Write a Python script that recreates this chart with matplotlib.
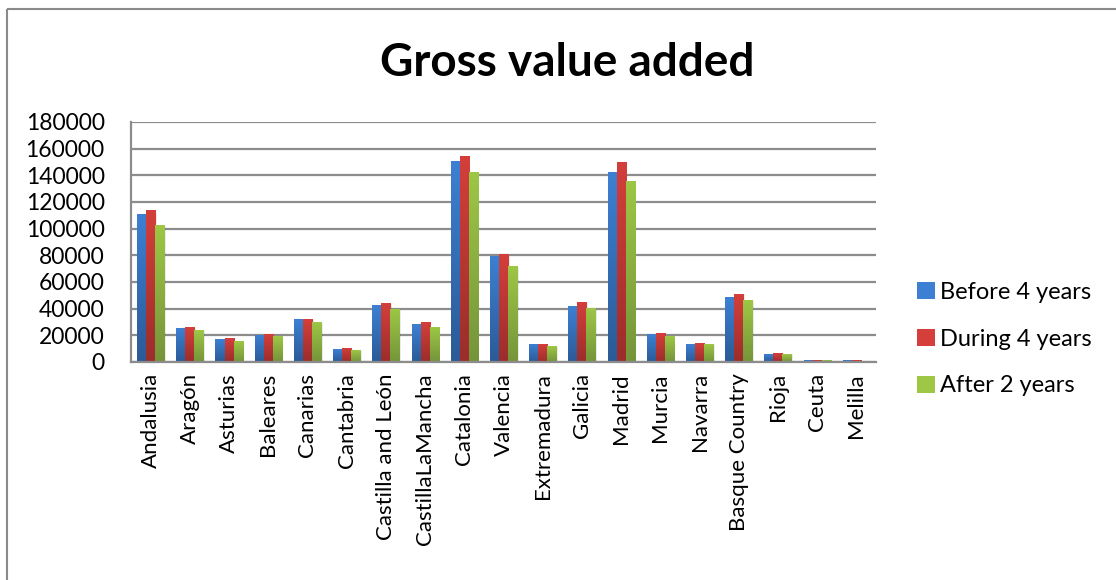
import numpy as np
import matplotlib
matplotlib.use("Agg")
import matplotlib.pyplot as plt
from matplotlib.patches import Rectangle, Patch
from matplotlib.colors import LinearSegmentedColormap

regions = ["Andalusia", "Aragón", "Asturias", "Baleares", "Canarias", "Cantabria",
           "Castilla and León", "CastillaLaMancha", "Catalonia", "Valencia",
           "Extremadura", "Galicia", "Madrid", "Murcia", "Navarra",
           "Basque Country", "Rioja", "Ceuta", "Melilla"]
before_4 = [111250, 25250, 17000, 20000, 32000, 9500, 42500, 28250, 150500, 79500,
            13250, 41750, 142250, 20750, 13250, 48500, 5750, 1250, 1250]
during_4 = [113750, 26000, 17750, 20750, 32000, 10250, 44000, 29750, 154250, 80750,
            13250, 44750, 149750, 21500, 14000, 50750, 6500, 1250, 1250]
after_2 = [102500, 23750, 15500, 19250, 29750, 8750, 39500, 26000, 142250, 71750,
           11750, 40250, 135500, 19250, 13250, 46250, 5750, 1250, 900]
series_names = ["Before 4 years", "During 4 years", "After 2 years"]
y_ticks = [0, 20000, 40000, 60000, 80000, 100000, 120000, 140000, 160000, 180000]

# (top colour, bottom colour) of each series' vertical gradient
gradients = [("#3d80d3", "#2b5a96"), ("#d43f3b", "#9b2d2b"), ("#9dc745", "#75943a")]

W, H = 1116, 580
fig = plt.figure(figsize=(W / 100, H / 100), dpi=100)
fig.patch.set_facecolor("white")

# chart area border
fig.add_artist(Rectangle((7 / W, 1 - 9 / H), 2, -2, transform=fig.transFigure,
                         fill=False, edgecolor="#8a8a8a", linewidth=1.5))

left, right, top, bottom = 131, 876, 122, 362
ax = fig.add_axes([left / W, 1 - bottom / H, (right - left) / W, (bottom - top) / H])

font = "Lato"
n = len(regions)
x = np.arange(n)
bw = 0.23
offsets = [-bw, 0, bw]
data = [before_4, during_4, after_2]

grad = np.linspace(1, 0, 256).reshape(-1, 1)
for vals, off, (c_top, c_bot), name in zip(data, offsets, gradients, series_names):
    cmap = LinearSegmentedColormap.from_list(name, [c_bot, c_top])
    bars = ax.bar(x + off, vals, width=bw, color=c_top, edgecolor="none", zorder=3)
    for b in bars:
        bx, by = b.get_x(), b.get_y()
        bwid, bh = b.get_width(), b.get_height()
        # soft shadow to the right of each bar
        ax.add_patch(Rectangle((bx + 0.04, by), bwid, bh * 0.985, facecolor="#000000",
                               alpha=0.08, edgecolor="none", zorder=2))
        im = ax.imshow(grad[::-1], cmap=cmap, aspect="auto",
                       extent=(bx, bx + bwid, by, by + bh), origin="lower", zorder=3.5,
                       interpolation="bilinear")
        im.set_clip_path(b)

ax.set_xlim(-0.5, n - 0.5)
ax.set_ylim(0, 180000)
ax.set_yticks(y_ticks)
ax.set_yticklabels([str(v) for v in y_ticks], fontsize=16.5, fontfamily=font)
ax.set_xticks(x)
ax.set_xticklabels(regions, rotation=90, fontsize=16, fontfamily=font)
ax.tick_params(axis="both", length=0, pad=8)
ax.tick_params(axis="y", pad=19)
ax.grid(axis="y", color="#8c8c8c", linewidth=1.6, zorder=1)
ax.set_axisbelow(True)
for s in ["top", "right"]:
    ax.spines[s].set_visible(False)
for s in ["left", "bottom"]:
    ax.spines[s].set_color("#8c8c8c")
    ax.spines[s].set_linewidth(1.6)
    ax.spines[s].set_zorder(4)

fig.text(567 / W, 1 - 63 / H, "Gross value added", ha="center", va="center",
         fontsize=33, fontweight="bold", fontfamily=font)

handles = [Patch(facecolor=c[0], edgecolor="none") for c in gradients]
fig.legend(handles, series_names, loc="center left", bbox_to_anchor=(896 / W, 1 - 339 / H),
           frameon=False, prop={"family": font, "size": 17}, handlelength=0.75,
           handleheight=0.75, handletextpad=0.2, labelspacing=1.1)

fig.savefig("out.png", dpi=100, facecolor="white")
